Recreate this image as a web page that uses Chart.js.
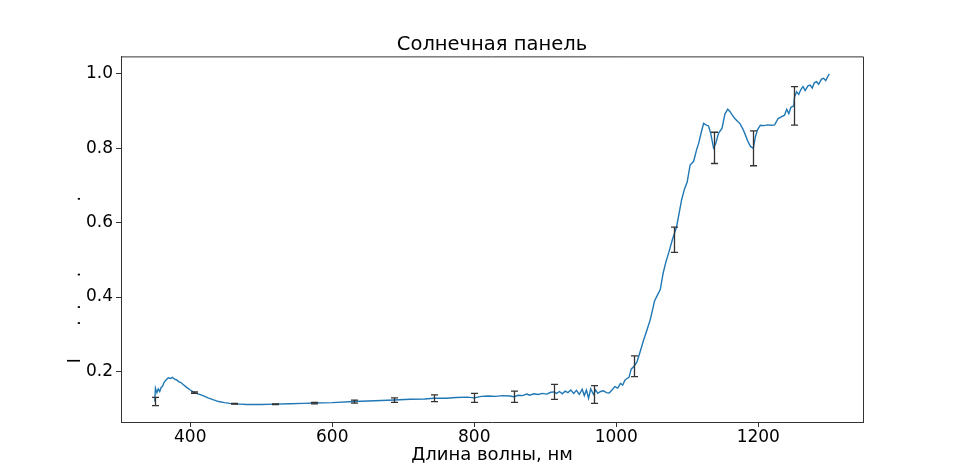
<!DOCTYPE html>
<html>
<head>
<meta charset="utf-8">
<script src="https://cdn.jsdelivr.net/npm/chart.js@4"></script>
<style>
    html, body { margin: 0; padding: 0; background: #fff; }
    #wrap { width: 959px; height: 474px; position: relative; }
</style>
</head>
<body>
<div id="wrap"><canvas id="spectrum"></canvas></div>
<script>
// Wavelength, nm
const wavelengths = [
    350, 351, 353, 355, 357, 359, 361, 363, 366, 369, 372, 375, 378, 381, 384, 387, 390, 395, 400, 406,
    412, 418, 425, 432, 440, 448, 456, 462, 470, 480, 490, 500, 519, 540, 560, 575, 600, 631, 660, 687,
    710, 730, 743, 760, 775, 790, 800, 810, 820, 830, 840, 850, 856, 862, 868, 874, 878, 884, 890, 896,
    902, 908, 912, 916, 920, 924, 928, 932, 936, 940, 944, 948, 952, 955, 958, 961, 964, 968, 971, 974,
    978, 982, 986, 990, 994, 998, 1002, 1006, 1009, 1012, 1015, 1018, 1021, 1025, 1029, 1033, 1038, 1043, 1048, 1054,
    1058, 1062, 1066, 1070, 1074, 1079, 1085, 1089, 1092, 1096, 1100, 1104, 1109, 1113, 1116, 1120, 1123, 1127, 1130, 1133,
    1137, 1140, 1144, 1149, 1153, 1157, 1160, 1164, 1167, 1171, 1174, 1178, 1181, 1185, 1189, 1193, 1196, 1199, 1203, 1208,
    1213, 1218, 1223, 1228, 1233, 1237, 1240, 1243, 1246, 1250, 1251, 1254, 1257, 1260, 1263, 1266, 1270, 1273, 1276, 1279,
    1282, 1285, 1289, 1292, 1295, 1298, 1300
];

// Relative intensity
const intensity = [
    0.119, 0.155, 0.143, 0.153, 0.146, 0.157, 0.160, 0.170, 0.177, 0.183, 0.181, 0.184, 0.179, 0.177, 0.172, 0.170, 0.165, 0.157, 0.150, 0.143,
    0.139, 0.135, 0.129, 0.124, 0.119, 0.116, 0.114, 0.113, 0.112, 0.111, 0.111, 0.111, 0.112, 0.113, 0.114, 0.115, 0.116, 0.119, 0.121, 0.123,
    0.125, 0.126, 0.128, 0.128, 0.130, 0.131, 0.129, 0.133, 0.134, 0.133, 0.135, 0.134, 0.132, 0.136, 0.135, 0.139, 0.136, 0.140, 0.138, 0.141,
    0.139, 0.144, 0.145, 0.141, 0.146, 0.140, 0.147, 0.143, 0.150, 0.141, 0.149, 0.138, 0.152, 0.135, 0.150, 0.128, 0.153, 0.138, 0.150, 0.141,
    0.146, 0.148, 0.143, 0.142, 0.150, 0.159, 0.155, 0.168, 0.163, 0.176, 0.181, 0.184, 0.206, 0.214, 0.225, 0.249, 0.281, 0.310, 0.340, 0.390,
    0.405, 0.420, 0.464, 0.495, 0.520, 0.554, 0.589, 0.630, 0.661, 0.690, 0.710, 0.755, 0.765, 0.795, 0.813, 0.845, 0.867, 0.862, 0.860, 0.840,
    0.801, 0.812, 0.840, 0.854, 0.892, 0.905, 0.899, 0.888, 0.880, 0.872, 0.867, 0.853, 0.840, 0.820, 0.805, 0.800, 0.831, 0.850, 0.862, 0.861,
    0.863, 0.862, 0.863, 0.880, 0.885, 0.889, 0.905, 0.893, 0.910, 0.914, 0.938, 0.952, 0.945, 0.958, 0.966, 0.955, 0.968, 0.970, 0.962, 0.976,
    0.979, 0.972, 0.986, 0.988, 0.982, 0.993, 1.000
];

// Error bars
const errX = [350, 406, 462, 519, 575, 631, 687, 743, 800, 856, 912, 968, 1025, 1081, 1137, 1193, 1250];
const errY = [0.119, 0.143, 0.113, 0.112, 0.115, 0.119, 0.123, 0.128, 0.129, 0.132, 0.145, 0.138, 0.214, 0.554, 0.801, 0.800, 0.914];
const errSize = [0.011, 0.002, 0.001, 0.001, 0.002, 0.004, 0.006, 0.009, 0.012, 0.015, 0.020, 0.024, 0.028, 0.034, 0.042, 0.047, 0.052];

const xTicks = [400, 600, 800, 1000, 1200];
const yTicks = [0.2, 0.4, 0.6, 0.8, 1.0];

// y label: "I" and a few stray dots, spaced out with blanks
const yLabel = 'I' + ' '.repeat(6) + '.' + ' '.repeat(2) + '.' + ' '.repeat(5) + '.' + ' '.repeat(13) + '.' + ' '.repeat(15);

const AXIS_COLOR = '#333';
const TICK_FONT = { family: 'DejaVu Sans', size: 17, weight: 'normal', lineHeight: 1.2 };
const LABEL_FONT = { family: 'DejaVu Sans', size: 18, weight: 'normal', lineHeight: 1.2 };
const TITLE_FONT = { family: 'DejaVu Sans', size: 19.5, weight: 'normal', lineHeight: 1.2 };

// Top and right spines
const framePlugin = {
    id: 'frame',
    afterDraw(chart) {
        const { ctx, chartArea: a } = chart;
        ctx.save();
        ctx.strokeStyle = AXIS_COLOR;
        ctx.lineWidth = 1;
        ctx.beginPath();
        ctx.moveTo(a.left, a.top + 0.5);
        ctx.lineTo(a.right + 0.5, a.top + 0.5);
        ctx.lineTo(a.right + 0.5, a.bottom);
        ctx.stroke();
        ctx.restore();
    }
};

// Vertical error bars with caps
const errorBarPlugin = {
    id: 'errorBars',
    afterDatasetsDraw(chart) {
        const { ctx, scales: { x, y } } = chart;
        ctx.save();
        ctx.strokeStyle = '#333';
        ctx.lineWidth = 1.3;
        errX.forEach((xv, i) => {
            const px = Math.round(x.getPixelForValue(xv)) + 0.5;
            const top = y.getPixelForValue(errY[i] + errSize[i]);
            const bottom = y.getPixelForValue(errY[i] - errSize[i]);
            ctx.beginPath();
            ctx.moveTo(px, top);
            ctx.lineTo(px, bottom);
            ctx.moveTo(px - 3.5, top);
            ctx.lineTo(px + 3.5, top);
            ctx.moveTo(px - 3.5, bottom);
            ctx.lineTo(px + 3.5, bottom);
            ctx.stroke();
        });
        ctx.restore();
    }
};

function initChart() {
    const ctx = document.getElementById('spectrum').getContext('2d');
    const points = wavelengths.map((w, i) => ({ x: w, y: intensity[i] }));

    new Chart(ctx, {
        type: 'line',
        data: {
            datasets: [{
                data: points,
                borderColor: '#1f77b4',
                borderWidth: 1.4,
                pointRadius: 0,
                tension: 0,
                fill: false
            }]
        },
        options: {
            responsive: true,
            maintainAspectRatio: false,
            devicePixelRatio: 1,
            animation: false,
            layout: { padding: { left: 0, right: 96, top: 0, bottom: 0 } },
            plugins: {
                legend: { display: false },
                tooltip: { enabled: false },
                title: {
                    display: true,
                    fullSize: false,  // centre over the plot area, not the canvas
                    text: 'Солнечная панель',
                    color: '#000',
                    font: TITLE_FONT,
                    padding: { top: 33, bottom: 0 }
                }
            },
            scales: {
                x: {
                    type: 'linear',
                    min: 302.5,
                    max: 1347.5,
                    afterFit: (s) => { s.height = 52; },
                    afterBuildTicks: (s) => { s.ticks = xTicks.map(v => ({ value: v })); },
                    ticks: {
                        color: '#000',
                        font: TICK_FONT,
                        padding: 0,
                        maxRotation: 0,
                        callback: (v) => String(v)
                    },
                    grid: { drawOnChartArea: false, drawTicks: true, tickLength: 5, tickColor: AXIS_COLOR },
                    border: { display: true, color: AXIS_COLOR, width: 1 },
                    title: {
                        display: true,
                        text: 'Длина волны, нм',
                        color: '#000',
                        font: LABEL_FONT,
                        padding: { top: 0, bottom: 8 }
                    }
                },
                y: {
                    type: 'linear',
                    min: 0.064,
                    max: 1.047,
                    afterFit: (s) => { s.width = 121; },
                    afterBuildTicks: (s) => { s.ticks = yTicks.map(v => ({ value: v })); },
                    ticks: {
                        color: '#000',
                        font: TICK_FONT,
                        padding: 3,
                        callback: (v) => v.toFixed(1)
                    },
                    grid: { drawOnChartArea: false, drawTicks: true, tickLength: 5, tickColor: AXIS_COLOR },
                    border: { display: true, color: AXIS_COLOR, width: 1 },
                    title: {
                        display: true,
                        text: yLabel,
                        color: '#000',
                        font: TICK_FONT,
                        padding: { top: 65, bottom: 0 }
                    }
                }
            }
        },
        plugins: [framePlugin, errorBarPlugin]
    });
}

document.addEventListener('DOMContentLoaded', initChart);
</script>
</body>
</html>
